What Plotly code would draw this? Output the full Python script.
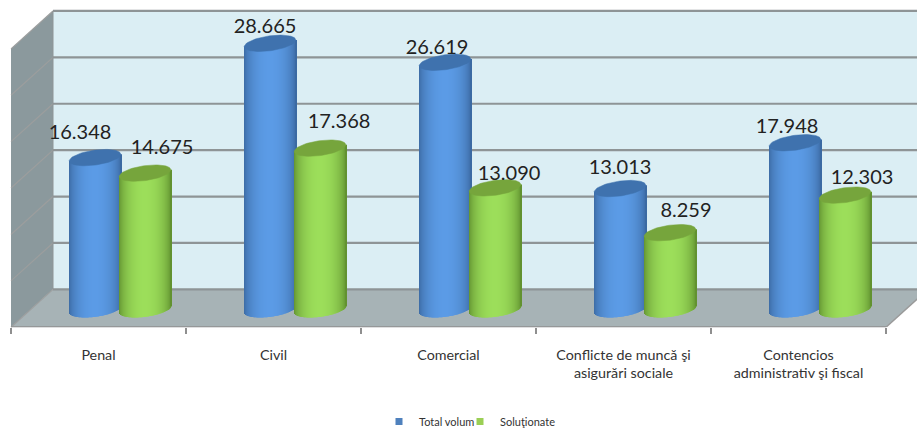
import numpy as np
import plotly.graph_objects as go

# ---- data ----
categories = ["Penal", "Civil", "Comercial", "Conflicte de muncă şi<br>asigurări sociale",
              "Contencios<br>administrativ şi fiscal"]
total_volum = [16348, 28665, 26619, 13013, 17948]
solutionate = [14675, 17368, 13090, 8259, 12303]
total_labels = ["16.348", "28.665", "26.619", "13.013", "17.948"]
solutionate_labels = ["14.675", "17.368", "13.090", "8.259", "12.303"]
grid_values = [0, 5000, 10000, 15000, 20000, 25000, 30000]

# ---- geometry of the pseudo-3D frame, in pixels ----
W, H = 917, 436
FLOOR_PX = 328          # front edge of the floor
LEFT_PX = 11            # front-left corner
CAT_PX = 175            # width of a category
DEPTH_X, DEPTH_Y = 42, 38
PX_PER_UNIT = 46.5 / 5000
BACK_BASE_PX = FLOOR_PX - DEPTH_Y
BAR_BASE_PX = 310
R_X, R_Y, SHEAR = 25.8, 7.5, 0.13
BLUE_OFF, GREEN_OFF = -3.5, 46.5   # cylinder centres relative to the category centre

def dx(px):   # pixels -> category units
    return px / CAT_PX
def dv(px):   # pixels -> value units
    return px / PX_PER_UNIT

x_at_left = -0.5 - dx(LEFT_PX)
x_range = [x_at_left, x_at_left + dx(W)]
y_bottom = -dv(FLOOR_PX - BACK_BASE_PX)
y_range = [y_bottom, y_bottom + dv(FLOOR_PX)]

n = len(categories)
front_left, front_right = -0.5, n - 0.5
back_left = front_left + dx(DEPTH_X)
back_right = front_right + dx(DEPTH_X)
depth_v = dv(DEPTH_Y)
top_v = grid_values[-1]

def poly(pts):
    return "M" + " L".join(f"{a},{b}" for a, b in pts) + " Z"

shapes = [
    dict(type="path", path=poly([(back_left, 0), (back_right, 0), (back_right, top_v), (back_left, top_v)]),
         fillcolor="#DBEEF4", line_width=0, layer="below"),
    dict(type="path", path=poly([(front_left, -depth_v), (back_left, 0), (back_left, top_v), (front_left, top_v - depth_v)]),
         fillcolor="#8B999D", line_width=0, layer="below"),
    dict(type="path", path=poly([(front_left, -depth_v), (front_right, -depth_v), (back_right, 0), (back_left, 0)]),
         fillcolor="#A7B3B6", line_width=0, layer="below"),
]
for g in grid_values:
    shapes.append(dict(type="line", x0=back_left, x1=back_right, y0=g, y1=g,
                       line=dict(color="#8E9496", width=2.2), layer="below"))
    shapes.append(dict(type="line", x0=front_left, x1=back_left, y0=g - depth_v, y1=g,
                       line=dict(color="#9C9E9E", width=1.2), layer="below"))
shapes.append(dict(type="line", x0=back_left, x1=back_left, y0=0, y1=top_v,
                   line=dict(color="#8E9496", width=1), layer="below"))
shapes.append(dict(type="line", x0=front_left, x1=front_right, y0=-depth_v, y1=-depth_v,
                   line=dict(color="#8F8F8F", width=2), layer="below"))
shapes.append(dict(type="line", x0=front_right, x1=back_right, y0=-depth_v, y1=0,
                   line=dict(color="#9A9A9A", width=1.5), layer="below"))

base_v = -dv(BAR_BASE_PX - BACK_BASE_PX)

def mix(c1, c2, t):
    return "rgb(" + ",".join(str(int(round(a + (b - a) * t))) for a, b in zip(c1, c2)) + ")"

def cylinder(values, center_px, edge, mid, cap, name):
    offs = np.arange(-R_X + 0.5, R_X, 1.0)
    xs, bases, heights, cols = [], [], [], []
    for i, val in enumerate(values):
        cx = i + dx(center_px)
        for o in offs:
            s = np.sqrt(max(0.0, 1 - (o / R_X) ** 2))
            t = s ** 1.3
            xs.append(cx + dx(o))
            bases.append(base_v + dv(SHEAR * o - R_Y * s))
            heights.append(val + dv(R_Y * s))
            cols.append(mix(edge, mid, t))
    fig.add_trace(go.Bar(x=xs, y=heights, base=bases, width=dx(1.3), name=name, showlegend=False,
                         marker=dict(color=cols, line_width=0), hoverinfo="skip"))
    t = np.linspace(0, 2 * np.pi, 73)
    for i, val in enumerate(values):
        cx = i + dx(center_px)
        ex = R_X * np.cos(t)
        ey = R_Y * np.sin(t) + SHEAR * ex
        fig.add_trace(go.Scatter(x=cx + dx(ex), y=base_v + val + dv(ey), mode="lines", fill="toself",
                                 fillcolor=cap, line=dict(color=cap, width=0.5),
                                 showlegend=False, hoverinfo="skip"))

fig = go.Figure()
BLUE = dict(edge=(58, 104, 160), mid=(91, 155, 230), cap="#3F72AE")
GREEN = dict(edge=(95, 143, 46), mid=(156, 222, 90), cap="#76A53C")
cylinder(total_volum, BLUE_OFF, BLUE["edge"], BLUE["mid"], BLUE["cap"], "Total volum")
cylinder(solutionate, GREEN_OFF, GREEN["edge"], GREEN["mid"], GREEN["cap"], "Soluţionate")

# data labels: hand-placed in the original, offset in px from the top of each cylinder
blue_off = [(-15, 24), (-5, 15), (-8, 13), (0, 20), (-8, 15)]
green_off = [(17, 24), (19, 25), (14, 13), (16, 21), (17, 16)]
for vals, labels, offs, c in [(total_volum, total_labels, blue_off, BLUE_OFF),
                              (solutionate, solutionate_labels, green_off, GREEN_OFF)]:
    fig.add_trace(go.Scatter(
        x=[i + dx(c + o[0]) for i, o in enumerate(offs)],
        y=[base_v + v + dv(o[1]) for v, o in zip(vals, offs)],
        mode="text", text=labels, textposition="middle center",
        textfont=dict(family="Liberation Sans Narrow, Lato", size=20, color="#222222"),
        showlegend=False, hoverinfo="skip"))

# legend
fig.add_trace(go.Scatter(x=[None], y=[None], mode="markers", name="Total volum",
                         marker=dict(symbol="square", size=7, color="#4F81BD")))
fig.add_trace(go.Scatter(x=[None], y=[None], mode="markers", name="Soluţionate",
                         marker=dict(symbol="square", size=7, color="#9BCF55")))
fig.add_trace(go.Scatter(x=[None], y=[None], mode="markers", name=" ",
                         marker=dict(symbol="square", size=7, color="rgba(0,0,0,0)")))

fig.update_layout(
    width=W, height=H, autosize=False, margin=dict(l=0, r=0, t=0, b=0),
    paper_bgcolor="white", plot_bgcolor="white", barmode="overlay", shapes=shapes,
    showlegend=True,
    legend=dict(orientation="h", x=379 / W, xanchor="left", y=0.03, yanchor="middle",
                font=dict(family="Lato", size=11, color="#333333"), itemwidth=30,
                entrywidth=36, entrywidthmode="pixels",
                bgcolor="rgba(0,0,0,0)"),
    xaxis=dict(range=x_range, tickmode="array", tickvals=list(range(n)), ticktext=categories,
               ticks="", showgrid=False, zeroline=False, showline=False, ticklabelstandoff=17,
               tickfont=dict(family="Lato", size=14.3, color="#333333"),
               minor=dict(tickmode="array", tickvals=[i - 0.5 for i in range(n + 1)], ticks="outside",
                          ticklen=6, tickwidth=2, tickcolor="#8F8F8F", showgrid=False)),
    yaxis=dict(range=y_range, domain=[(H - FLOOR_PX) / H, 1], visible=False, showgrid=False, zeroline=False),
)
fig.write_html("out.html", config={"displayModeBar": False}, post_script="document.body.style.margin='0';")
